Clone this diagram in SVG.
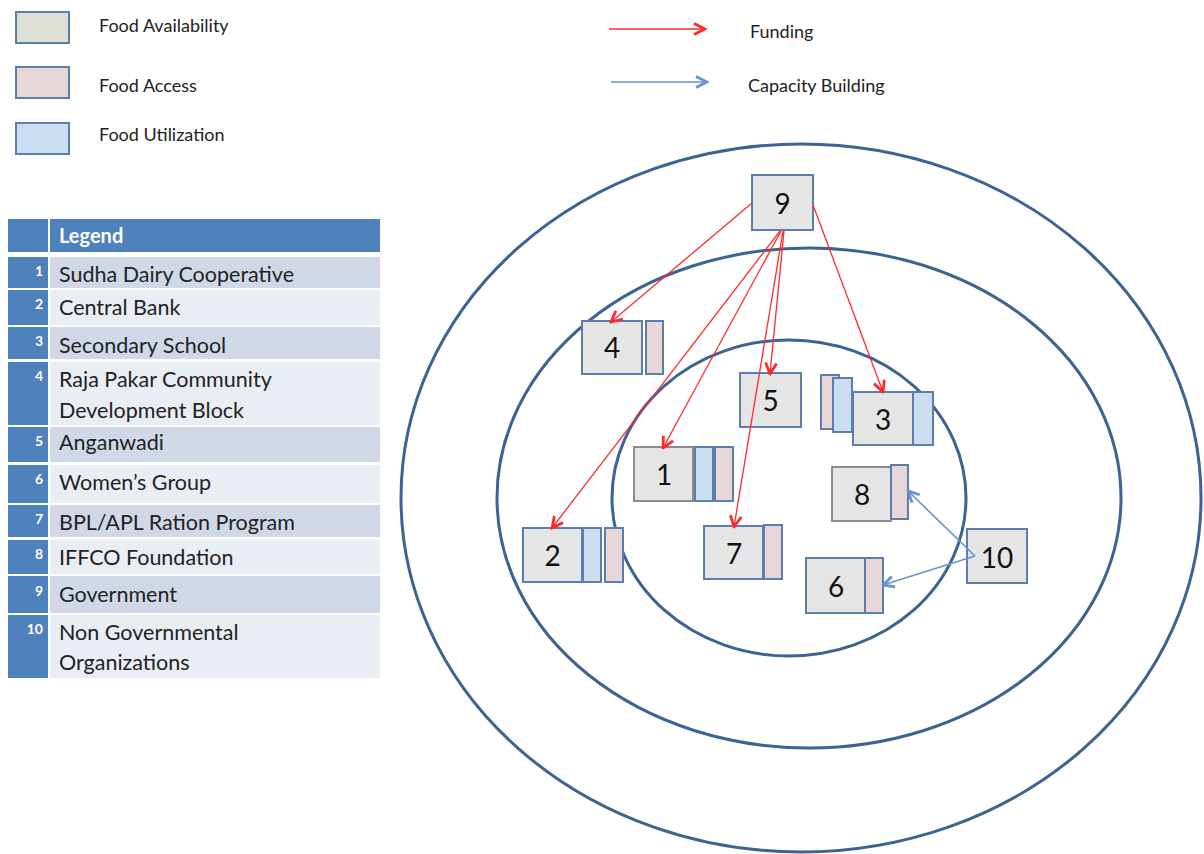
<svg xmlns="http://www.w3.org/2000/svg" width="1204" height="854" viewBox="0 0 1204 854">
  <style>
    .lbl { font-family: Lato, "Open Sans", "Liberation Sans", sans-serif; fill: #222; }
    .key { font-size: 18px; }
    .row { font-size: 21.5px; }
    .num { font-family: Lato, "Liberation Sans", sans-serif; font-size: 14px; font-weight: bold; fill: #fff; text-anchor: end; }
    .ring { fill: none; stroke: #3d6393; stroke-width: 3; }
    .box { fill: #e5e5e5; stroke: #5b7eab; stroke-width: 2; }
    .boxg { fill: #e5e5e5; stroke: #8c8c8c; stroke-width: 2; }
    .acc { fill: #e8d7d9; stroke: #5b7eab; stroke-width: 2; }
    .utl { fill: #cadef1; stroke: #5b7eab; stroke-width: 2; }
    .avl { fill: #dde0d7; stroke: #5b7eab; stroke-width: 2; }
    .id { font-family: Lato, "Liberation Sans", sans-serif; font-size: 28px; fill: #111; text-anchor: middle; }
    .fund { fill: none; stroke: #ff2a2a; stroke-width: 1.3; marker-end: url(#redHead); }
    .cap { fill: none; stroke: #6792cc; stroke-width: 1.6; marker-end: url(#blueHead); }
    .hdr { fill: #4f81bd; }
    .dark { fill: #d0d8e8; }
    .light { fill: #e9edf4; }
  </style>
  <defs>
    <marker id="redHead" viewBox="0 0 14 14" refX="12.5" refY="7" markerWidth="14" markerHeight="14" markerUnits="userSpaceOnUse" orient="auto">
      <polyline points="1.5,1.5 12.5,7 1.5,12.5" fill="none" stroke="#ff2a2a" stroke-width="2.8"/>
    </marker>
    <marker id="blueHead" viewBox="0 0 14 14" refX="12.5" refY="7" markerWidth="14" markerHeight="14" markerUnits="userSpaceOnUse" orient="auto">
      <polyline points="1.5,1.5 12.5,7 1.5,12.5" fill="none" stroke="#6792cc" stroke-width="2.8"/>
    </marker>
  </defs>

  <rect width="1204" height="854" fill="#fff"/>

  <!-- colour key -->
  <g id="key">
    <rect class="avl" x="16" y="12" width="53" height="31"/>
    <rect class="acc" x="16" y="67" width="53" height="31"/>
    <rect class="utl" x="16" y="123" width="53" height="31"/>
    <text class="lbl key" x="99" y="32">Food Availability</text>
    <text class="lbl key" x="99" y="92">Food Access</text>
    <text class="lbl key" x="99" y="141">Food Utilization</text>
    <line class="fund" x1="609" y1="29" x2="705" y2="29"/>
    <line class="cap" x1="611" y1="82" x2="707" y2="82"/>
    <text class="lbl key" x="750" y="38">Funding</text>
    <text class="lbl key" x="748" y="92">Capacity Building</text>
  </g>

  <!-- numbered legend table -->
  <g id="legend">
    <rect class="hdr" x="8" y="219" width="40" height="33"/>
    <rect class="hdr" x="50" y="219" width="330" height="33"/>
    <text x="59" y="243" font-family="Lato, 'Liberation Sans', sans-serif" font-size="20" font-weight="bold" fill="#fff">Legend</text>

    <rect class="hdr" x="8" y="257" width="40" height="31"/>
    <rect class="dark" x="50" y="257" width="330" height="31"/>
    <rect class="hdr" x="8" y="290" width="40" height="35"/>
    <rect class="light" x="50" y="290" width="330" height="35"/>
    <rect class="hdr" x="8" y="327" width="40" height="32"/>
    <rect class="dark" x="50" y="327" width="330" height="32"/>
    <rect class="hdr" x="8" y="362" width="40" height="63"/>
    <rect class="light" x="50" y="362" width="330" height="63"/>
    <rect class="hdr" x="8" y="427" width="40" height="35"/>
    <rect class="dark" x="50" y="427" width="330" height="35"/>
    <rect class="hdr" x="8" y="465" width="40" height="38"/>
    <rect class="light" x="50" y="465" width="330" height="38"/>
    <rect class="hdr" x="8" y="505" width="40" height="32"/>
    <rect class="dark" x="50" y="505" width="330" height="32"/>
    <rect class="hdr" x="8" y="540" width="40" height="34"/>
    <rect class="light" x="50" y="540" width="330" height="34"/>
    <rect class="hdr" x="8" y="576" width="40" height="37"/>
    <rect class="dark" x="50" y="576" width="330" height="37"/>
    <rect class="hdr" x="8" y="615" width="40" height="63"/>
    <rect class="light" x="50" y="615" width="330" height="63"/>

    <text class="num" x="43" y="276">1</text>
    <text class="num" x="43" y="309">2</text>
    <text class="num" x="43" y="346">3</text>
    <text class="num" x="43" y="381">4</text>
    <text class="num" x="43" y="446">5</text>
    <text class="num" x="43" y="484">6</text>
    <text class="num" x="43" y="524">7</text>
    <text class="num" x="43" y="559">8</text>
    <text class="num" x="43" y="596">9</text>
    <text class="num" x="43" y="634">10</text>

    <text class="lbl row" x="59" y="282">Sudha Dairy Cooperative</text>
    <text class="lbl row" x="59" y="315">Central Bank</text>
    <text class="lbl row" x="59" y="353">Secondary School</text>
    <text class="lbl row" x="59" y="387">Raja Pakar Community</text>
    <text class="lbl row" x="59" y="418">Development Block</text>
    <text class="lbl row" x="59" y="450">Anganwadi</text>
    <text class="lbl row" x="59" y="490">Women’s Group</text>
    <text class="lbl row" x="59" y="530">BPL/APL Ration Program</text>
    <text class="lbl row" x="59" y="565">IFFCO Foundation</text>
    <text class="lbl row" x="59" y="602">Government</text>
    <text class="lbl row" x="59" y="640">Non Governmental</text>
    <text class="lbl row" x="59" y="670">Organizations</text>
  </g>

  <!-- concentric rings -->
  <g id="rings">
    <ellipse class="ring" cx="801" cy="498" rx="400" ry="354"/>
    <ellipse class="ring" cx="809" cy="498" rx="312" ry="250"/>
    <ellipse class="ring" cx="789" cy="498" rx="177" ry="158"/>
  </g>

  <g id="node-9">
    <rect class="box" x="752" y="175" width="61" height="55"/>
    <text class="id" x="782.5" y="214">9</text>
  </g>
  <g id="node-4">
    <rect class="box" x="582" y="321" width="60" height="53"/>
    <rect class="acc" x="646" y="321" width="17" height="53"/>
    <text class="id" x="612" y="358">4</text>
  </g>
  <g id="node-5">
    <rect class="box" x="740" y="373" width="61" height="54"/>
    <text class="id" x="770.5" y="411">5</text>
  </g>
  <g id="node-3">
    <rect class="acc" x="821" y="375" width="18" height="54"/>
    <rect class="utl" x="833" y="378" width="19" height="54"/>
    <rect class="box" x="853" y="392" width="60" height="53"/>
    <rect class="utl" x="913" y="392" width="20" height="53"/>
    <text class="id" x="883" y="430">3</text>
  </g>
  <g id="node-1">
    <rect class="boxg" x="634" y="447" width="59" height="54"/>
    <rect class="utl" x="695" y="447" width="18" height="54"/>
    <rect class="acc" x="715" y="447" width="18" height="54"/>
    <text class="id" x="664" y="485">1</text>
  </g>
  <g id="node-2">
    <rect class="box" x="523" y="528" width="59" height="54"/>
    <rect class="utl" x="583" y="528" width="18" height="54"/>
    <rect class="acc" x="605" y="528" width="18" height="54"/>
    <text class="id" x="552.5" y="566">2</text>
  </g>
  <g id="node-7">
    <rect class="box" x="704" y="526" width="59" height="53"/>
    <rect class="acc" x="764" y="525" width="18" height="54"/>
    <text class="id" x="734" y="564">7</text>
  </g>
  <g id="node-8">
    <rect class="boxg" x="832" y="467" width="59" height="54"/>
    <rect class="acc" x="891" y="465" width="17" height="54"/>
    <text class="id" x="862" y="505">8</text>
  </g>
  <g id="node-6">
    <rect class="box" x="806" y="558" width="59" height="55"/>
    <rect class="acc" x="865" y="558" width="18" height="55"/>
    <text class="id" x="836" y="597">6</text>
  </g>
  <g id="node-10">
    <rect class="box" x="967" y="529" width="60" height="54"/>
    <text class="id" x="997" y="568">10</text>
  </g>

  <!-- funding and capacity-building links -->
  <g id="connectors">
    <line class="fund" x1="752" y1="203" x2="611" y2="322"/>
    <line class="fund" x1="813" y1="205" x2="883" y2="392"/>
    <line class="fund" x1="780" y1="231" x2="552" y2="528"/>
    <line class="fund" x1="781" y1="231" x2="663" y2="448"/>
    <line class="fund" x1="783" y1="231" x2="734" y2="527"/>
    <line class="fund" x1="784" y1="231" x2="770" y2="374"/>
    <line class="cap" x1="975" y1="556" x2="908" y2="491"/>
    <line class="cap" x1="975" y1="556" x2="883" y2="585"/>
  </g>
</svg>
